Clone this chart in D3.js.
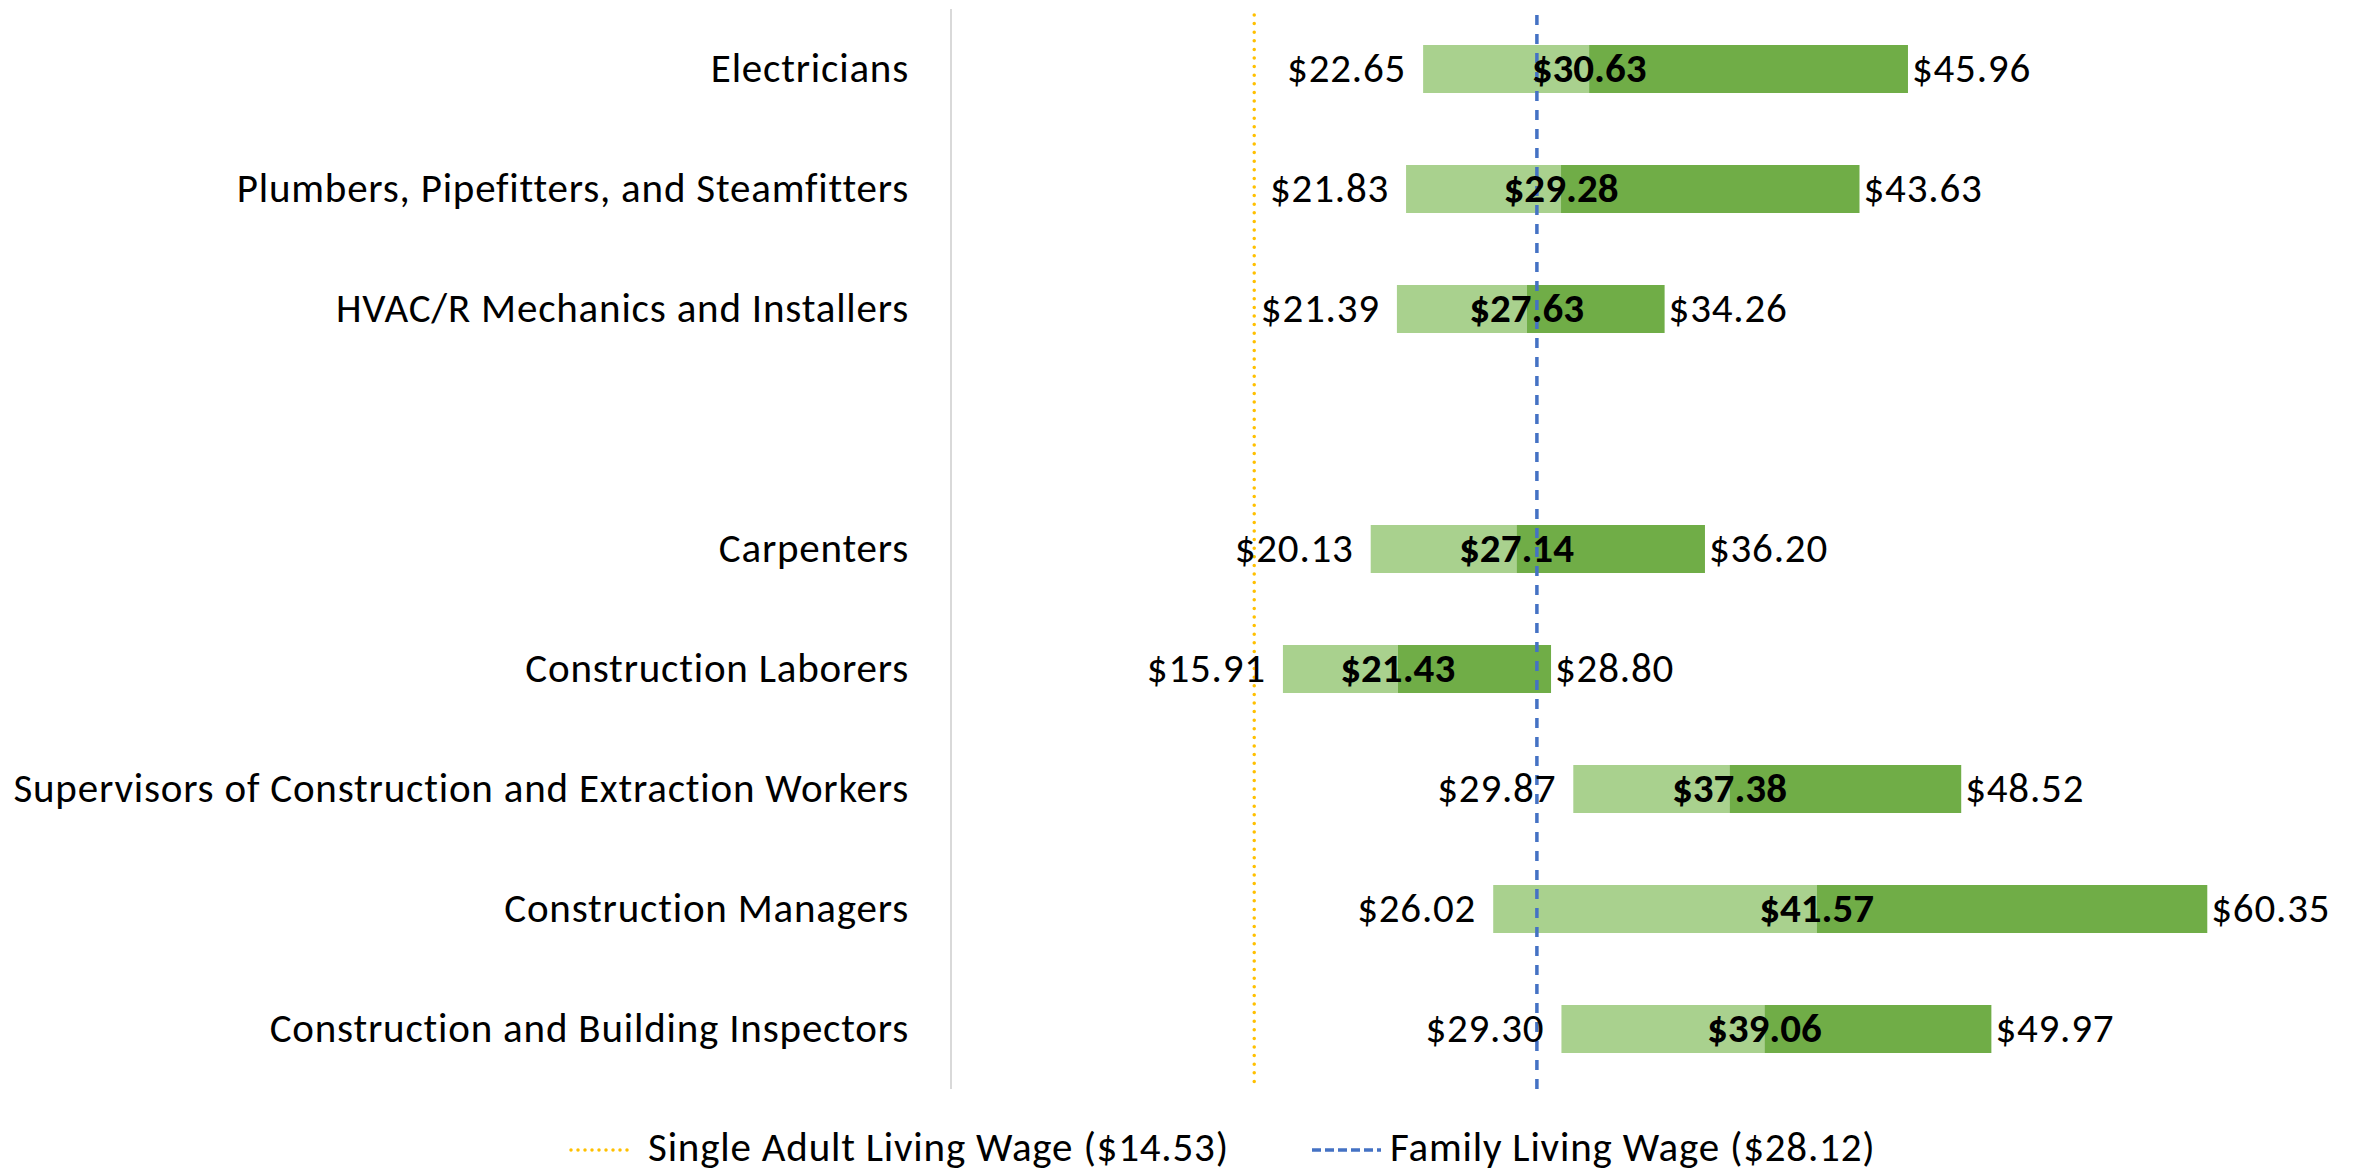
<!DOCTYPE html>
<html lang="en">
  <head>
    <meta charset="utf-8">
    <script src="https://cdn.jsdelivr.net/npm/d3@7"></script>
    <title>Construction wages</title>
    <style>
      body{margin:0;background:#fff;}
      text{font-family:Carlito,Lato,sans-serif;fill:#000;letter-spacing:0.8px;}
    </style>
  </head>
  <body>
    <div id="chart"></div>
    <script>
      //Data
      var occupations=["Electricians","Plumbers, Pipefitters, and Steamfitters","HVAC/R Mechanics and Installers","",
        "Carpenters","Construction Laborers","Supervisors of Construction and Extraction Workers",
        "Construction Managers","Construction and Building Inspectors"];
      var lowWage=[22.65,21.83,21.39,null,20.13,15.91,29.87,26.02,29.30];
      var medianWage=[30.63,29.28,27.63,null,27.14,21.43,37.38,41.57,39.06];
      var highWage=[45.96,43.63,34.26,null,36.20,28.80,48.52,60.35,49.97];
      var livingWages=[14.53,28.12];
      var livingLabels=["Single Adult Living Wage ($14.53)","Family Living Wage ($28.12)"];

      var w=2359, h=1173, fs=41;
      var fmt=function(v){return "$"+v.toFixed(2);};

      var svg=d3.select("#chart").append("svg")
        .attr("width",w).attr("height",h);

      //Scales
      var x=d3.scaleLinear().domain([0,60]).range([952,2200]);
      var y=d3.scaleBand().domain(occupations).range([9,1089])
        .paddingInner(0.6).paddingOuter(0.3);
      var bw=y.bandwidth();

      var rows=occupations.map(function(d,i){
        return {name:d,low:lowWage[i],med:medianWage[i],high:highWage[i]};
      });
      var filled=rows.filter(function(d){return d.low!==null;});

      //Category axis line
      svg.append("line")
        .attr("x1",x(0)-1).attr("x2",x(0)-1)
        .attr("y1",9).attr("y2",1089)
        .attr("stroke","#d9d9d9").attr("stroke-width",2);

      //Category labels
      svg.selectAll(".cat").data(rows).enter().append("text")
        .attr("class","cat")
        .attr("x",909)
        .attr("y",function(d){return y(d.name)+bw/2+13;})
        .attr("text-anchor","end")
        .style("font-size",fs+"px")
        .text(function(d){return d.name;});

      //Bars: low->median light, median->high dark
      svg.selectAll(".lo").data(filled).enter().append("rect")
        .attr("x",function(d){return x(d.low);})
        .attr("y",function(d){return y(d.name);})
        .attr("width",function(d){return x(d.med)-x(d.low);})
        .attr("height",bw)
        .attr("fill","#a9d18e");
      svg.selectAll(".hi").data(filled).enter().append("rect")
        .attr("x",function(d){return x(d.med);})
        .attr("y",function(d){return y(d.name);})
        .attr("width",function(d){return x(d.high)-x(d.med);})
        .attr("height",bw)
        .attr("fill","#70ad47");

      //Living wage lines
      var lineStyle=[{c:"#ffc000",dash:"0,8.6",cap:"round"},{c:"#4472c4",dash:"10,9",cap:"butt"}];
      livingWages.forEach(function(v,i){
        svg.append("line")
          .attr("x1",x(v)).attr("x2",x(v))
          .attr("y1",15).attr("y2",1090)
          .attr("stroke",lineStyle[i].c).attr("stroke-width",3.5)
          .attr("stroke-dasharray",lineStyle[i].dash)
          .attr("stroke-linecap",lineStyle[i].cap);
      });

      //Value labels
      svg.selectAll(".lowT").data(filled).enter().append("text")
        .attr("x",function(d){return x(d.low)-17;})
        .attr("y",function(d){return y(d.name)+bw/2+13;})
        .attr("text-anchor","end")
        .style("font-size",fs+"px")
        .text(function(d){return fmt(d.low);});
      svg.selectAll(".highT").data(filled).enter().append("text")
        .attr("x",function(d){return x(d.high)+4;})
        .attr("y",function(d){return y(d.name)+bw/2+13;})
        .style("font-size",fs+"px")
        .text(function(d){return fmt(d.high);});
      svg.selectAll(".medT").data(filled).enter().append("text")
        .attr("x",function(d){return x(d.med);})
        .attr("y",function(d){return y(d.name)+bw/2+13;})
        .attr("text-anchor","middle")
        .style("font-size",fs+"px")
        .style("font-weight","bold")
        .style("letter-spacing","0px")
        .text(function(d){return fmt(d.med);});

      //Legend
      var legX=[571,1312];
      livingLabels.forEach(function(t,i){
        var g=svg.append("g").attr("transform","translate("+legX[i]+",1150)");
        g.append("line")
          .attr("x1",0).attr("x2",i?69:62)
          .attr("stroke",lineStyle[i].c).attr("stroke-width",3.5)
          .attr("stroke-dasharray",i?"9,4":"0,7")
          .attr("stroke-linecap",lineStyle[i].cap);
        g.append("text")
          .attr("x",i?78:77).attr("y",11)
          .style("font-size",fs+"px")
          .text(t);
      });
    </script>
  </body>
</html>
